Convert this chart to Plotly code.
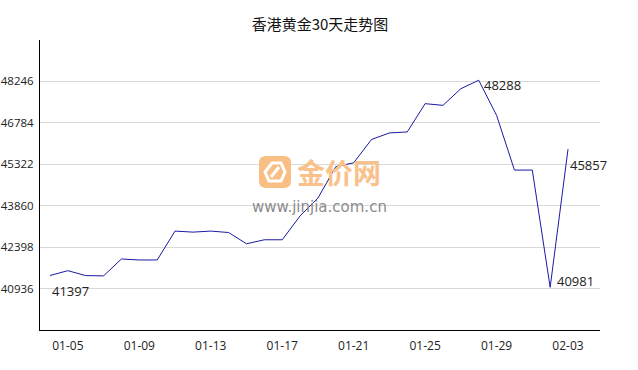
import plotly.graph_objects as go

dates = ["01-04", "01-05", "01-06", "01-07", "01-08", "01-09", "01-10", "01-11", "01-12", "01-13",
         "01-14", "01-15", "01-16", "01-17", "01-18", "01-19", "01-20", "01-21", "01-22", "01-23",
         "01-24", "01-25", "01-26", "01-27", "01-28", "01-29", "01-30", "01-31", "02-02", "02-03"]
prices = [41397, 41568, 41393, 41385, 41980, 41945, 41945, 42964, 42928, 42964,
          42914, 42517, 42658, 42658, 43500, 44130, 45240, 45374, 46197, 46428,
          46463, 47461, 47402, 47989, 48288, 47050, 45118, 45118, 40981, 45857]
y_ticks = [40936, 42398, 43860, 45322, 46784, 48246]
x_ticks = dates[1::4]
title_text = "香港黄金30天走势图"

W, H = 638, 370
L, R, T, B = 40, 600, 40, 330


def px(x):
    return (x - L) / (R - L)


def py(y):
    return (B - y) / (B - T)


fig = go.Figure()
fig.add_trace(go.Scatter(x=dates, y=prices, mode="lines",
                         line=dict(color="#1a1aa6", width=1), hoverinfo="x+y"))

font_num = "Open Sans, Noto Sans, sans-serif"

# point labels
labels = [
    (0, 0, -15),
    (24, 3, -5),
    (28, 5, 6),
    (29, 0, -16),
]
ann = []
for i, xs, ys in labels:
    ann.append(dict(x=dates[i], y=prices[i], xref="x", yref="y", text=str(prices[i]),
                    showarrow=False, xanchor="left", yanchor="middle", xshift=xs, yshift=ys,
                    font=dict(size=13, color="#222", family=font_num)))

# watermark
ann.append(dict(x=px(295), y=py(172), xref="paper", yref="paper", text="<b>金价网</b>", showarrow=False,
                xanchor="left", yanchor="middle",
                font=dict(size=28, color="#f9c28c", family="Noto Sans CJK SC"), ))
ann.append(dict(x=px(319), y=py(207), xref="paper", yref="paper", text="www.jinjia.com.cn",
                showarrow=False, xanchor="center", yanchor="middle",
                font=dict(size=15, color="#8c8c8c", family="DejaVu Sans, sans-serif")))

shapes = []
# rounded square icon
x0, y0, x1, y1, r = 259, 156, 291, 188, 7


def P(x, y):
    return f"{px(x)},{py(y)}"


path = (f"M {P(x0 + r, y0)} L {P(x1 - r, y0)} Q {P(x1, y0)} {P(x1, y0 + r)} "
        f"L {P(x1, y1 - r)} Q {P(x1, y1)} {P(x1 - r, y1)} L {P(x0 + r, y1)} "
        f"Q {P(x0, y1)} {P(x0, y1 - r)} L {P(x0, y0 + r)} Q {P(x0, y0)} {P(x0 + r, y0)} Z")
shapes.append(dict(type="path", xref="paper", yref="paper", path=path,
                   fillcolor="#f9be84", line=dict(width=0), layer="above"))
cx, cy = 275, 172
hexp = (f"M {P(cx - 3, cy - 9)} L {P(cx + 6, cy - 9)} L {P(cx + 10, cy)} L {P(cx + 6, cy + 9)} "
        f"L {P(cx - 6, cy + 9)} L {P(cx - 10, cy)} Z")
shapes.append(dict(type="path", xref="paper", yref="paper", path=hexp,
                   fillcolor="rgba(0,0,0,0)", line=dict(color="white", width=3), layer="above"))
shapes.append(dict(type="path", xref="paper", yref="paper",
                   path=f"M {P(cx - 4, cy + 5)} L {P(cx + 4, cy - 5)}",
                   line=dict(color="white", width=3), layer="above"))

fig.update_layout(
    width=W, height=H,
    margin=dict(l=L, r=W - R, t=T, b=H - B, autoexpand=False),
    paper_bgcolor="white", plot_bgcolor="white",
    showlegend=False,
    title=dict(text=title_text, x=0.5, xref="paper", xanchor="center", y=1 - 25 / H, yanchor="middle",
               font=dict(size=15, color="#111", family="Noto Sans CJK SC")),
    xaxis=dict(type="category", range=[-0.56, 30.79], tickmode="array", tickvals=x_ticks,
               ticktext=x_ticks, showgrid=False, showline=True, linecolor="#000", linewidth=1,
               ticks="", ticklabelstandoff=5, zeroline=False, automargin=False,
               tickfont=dict(size=12, color="#222", family=font_num)),
    yaxis=dict(range=[39474, 49708], tickmode="array", tickvals=y_ticks,
               ticktext=[str(v) for v in y_ticks],
               showgrid=True, gridcolor="#d9d9d9", gridwidth=1, showline=True,
               linecolor="#000", linewidth=1, ticks="", zeroline=False,
               ticklabelstandoff=3, automargin=False,
               tickfont=dict(size=11.5, color="#222", family=font_num)),
    annotations=ann, shapes=shapes,
)

fig.write_html("out.html")
